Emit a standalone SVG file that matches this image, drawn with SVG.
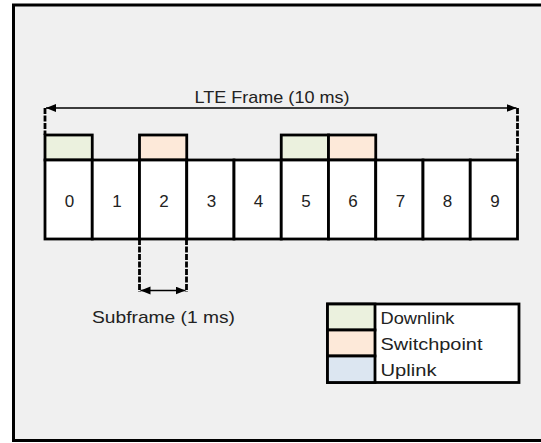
<svg xmlns="http://www.w3.org/2000/svg" width="541" height="443" viewBox="0 0 541 443">
<defs>
<marker id="ah" markerUnits="userSpaceOnUse" markerWidth="12" markerHeight="10" refX="10" refY="4" orient="auto-start-reverse">
<path d="M0,0 L10,4 L0,8 z" fill="#000"/>
</marker>
<style>
.cell{fill:#fff;stroke:#000;stroke-width:2.8}
.dl{fill:#ebf1de;stroke:#000;stroke-width:2.8}
.sp{fill:#fde9d9;stroke:#000;stroke-width:2.8}
.ul{fill:#dce6f1;stroke:#000;stroke-width:2.8}
.t{font-family:"Liberation Sans",Arial,sans-serif;font-size:17px;fill:#222}
.num{text-anchor:middle}
.dash{stroke:#000;stroke-width:2.8;stroke-dasharray:6 1.5;fill:none}
.arr{stroke:#000;stroke-width:1.5;fill:none;marker-start:url(#ah);marker-end:url(#ah)}
</style>
</defs>
<rect x="13.5" y="5" width="540" height="435.5" fill="#f0f0f0" stroke="#000" stroke-width="3"/>

<g id="connectors">
<line class="dash" x1="45" y1="108" x2="45" y2="135"/>
<line class="dash" x1="517.5" y1="108" x2="517.5" y2="160"/>
<line class="arr" x1="46" y1="108" x2="516.5" y2="108"/>
<line class="dash" x1="139.5" y1="239" x2="139.5" y2="292"/>
<line class="dash" x1="186.5" y1="239" x2="186.5" y2="292"/>
<line class="arr" x1="140.5" y1="290.5" x2="185.5" y2="290.5"/>
</g>

<text class="t" x="272" y="103" text-anchor="middle" textLength="155" lengthAdjust="spacingAndGlyphs">LTE Frame (10 ms)</text>
<text class="t" x="163.5" y="323" text-anchor="middle" textLength="143" lengthAdjust="spacingAndGlyphs">Subframe (1 ms)</text>

<g id="top0"><rect class="dl" x="45" y="135" width="47.25" height="25"/></g>
<g id="top2"><rect class="sp" x="139.5" y="135" width="47.25" height="25"/></g>
<g id="top5"><rect class="dl" x="281.25" y="135" width="47.25" height="25"/></g>
<g id="top6"><rect class="sp" x="328.5" y="135" width="47.25" height="25"/></g>

<g id="sf0"><rect class="cell" x="45" y="160" width="47.25" height="79"/><text class="t num" x="69.6" y="206.5">0</text></g>
<g id="sf1"><rect class="cell" x="92.25" y="160" width="47.25" height="79"/><text class="t num" x="116.9" y="206.5">1</text></g>
<g id="sf2"><rect class="cell" x="139.5" y="160" width="47.25" height="79"/><text class="t num" x="164.1" y="206.5">2</text></g>
<g id="sf3"><rect class="cell" x="186.75" y="160" width="47.25" height="79"/><text class="t num" x="211.4" y="206.5">3</text></g>
<g id="sf4"><rect class="cell" x="234" y="160" width="47.25" height="79"/><text class="t num" x="258.6" y="206.5">4</text></g>
<g id="sf5"><rect class="cell" x="281.25" y="160" width="47.25" height="79"/><text class="t num" x="305.9" y="206.5">5</text></g>
<g id="sf6"><rect class="cell" x="328.5" y="160" width="47.25" height="79"/><text class="t num" x="353.1" y="206.5">6</text></g>
<g id="sf7"><rect class="cell" x="375.75" y="160" width="47.25" height="79"/><text class="t num" x="400.4" y="206.5">7</text></g>
<g id="sf8"><rect class="cell" x="423" y="160" width="47.25" height="79"/><text class="t num" x="447.6" y="206.5">8</text></g>
<g id="sf9"><rect class="cell" x="470.25" y="160" width="47.25" height="79"/><text class="t num" x="494.9" y="206.5">9</text></g>

<g id="legend">
<rect x="327.5" y="304" width="191.5" height="78.5" fill="#fff" stroke="#000" stroke-width="2.8"/>
<rect class="dl" x="327.5" y="304" width="47.5" height="26"/>
<rect class="sp" x="327.5" y="330" width="47.5" height="26"/>
<rect class="ul" x="327.5" y="356" width="47.5" height="26.5"/>
<text class="t" x="380.5" y="323.5" textLength="74" lengthAdjust="spacingAndGlyphs">Downlink</text>
<text class="t" x="380.5" y="349.5" textLength="102" lengthAdjust="spacingAndGlyphs">Switchpoint</text>
<text class="t" x="380.5" y="375.5" textLength="56" lengthAdjust="spacingAndGlyphs">Uplink</text>
</g>
</svg>
